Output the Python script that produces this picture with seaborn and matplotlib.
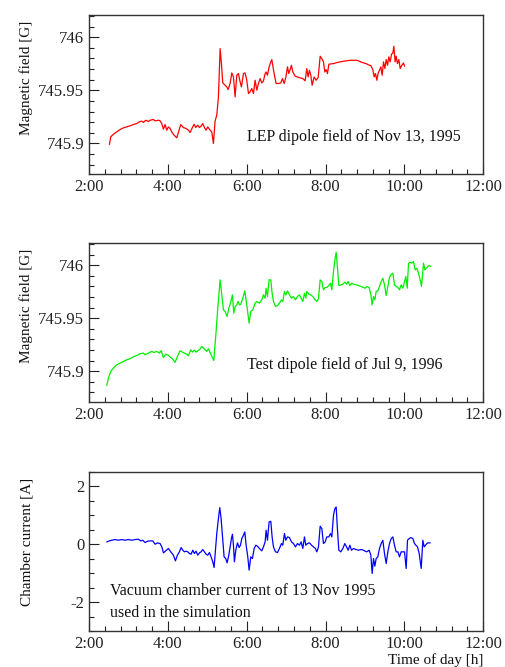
import matplotlib
matplotlib.use('Agg')
import matplotlib.pyplot as plt
from matplotlib.ticker import MultipleLocator
import seaborn as sns
import pandas as pd

# time of day in hours

# LEP dipole field, Nov 13 1995 [G]
lep_t = [2.516, 2.550, 2.617, 2.702, 2.787, 2.871, 2.956, 3.040, 3.125, 3.210, 3.277, 3.337,
         3.379, 3.438, 3.506, 3.548, 3.633, 3.675, 3.760, 3.802, 3.844, 3.886, 3.929, 3.971,
         4.013, 4.056, 4.098, 4.157, 4.225, 4.284, 4.326, 4.394, 4.462, 4.521, 4.563, 4.622,
         4.665, 4.707, 4.758, 4.800, 4.842, 4.885, 4.927, 4.969, 5.012, 5.071, 5.113, 5.155,
         5.198, 5.240, 5.282, 5.325, 5.358, 5.392, 5.452, 5.494, 5.528, 5.578, 5.621, 5.663,
         5.705, 5.748, 5.790, 5.832, 5.866, 5.917, 5.959, 6.001, 6.044, 6.086, 6.128, 6.171,
         6.213, 6.255, 6.298, 6.340, 6.382, 6.424, 6.467, 6.492, 6.526, 6.568, 6.611, 6.636,
         6.661, 6.695, 6.746, 6.805, 6.864, 6.907, 6.949, 6.991, 7.034, 7.067, 7.101, 7.135,
         7.169, 7.228, 7.287, 7.355, 7.423, 7.482, 7.524, 7.558, 7.592, 7.626, 7.660, 7.710,
         7.761, 7.812, 7.863, 7.905, 7.947, 7.981, 8.015, 8.049, 8.083, 8.201, 8.328, 8.455,
         8.624, 8.793, 8.878, 8.962, 9.030, 9.089, 9.149, 9.199, 9.233, 9.267, 9.301, 9.335,
         9.369, 9.402, 9.436, 9.470, 9.504, 9.538, 9.572, 9.605, 9.639, 9.673, 9.707, 9.732,
         9.766, 9.791, 9.825, 9.859, 9.893, 9.935, 9.978, 10.003]
lep_b = [745.8989, 745.9061, 745.9086, 745.9108, 745.9130, 745.9146, 745.9155, 745.9165,
         745.9177, 745.9187, 745.9203, 745.9209, 745.9196, 745.9218, 745.9206, 745.9218,
         745.9225, 745.9212, 745.9218, 745.9212, 745.9187, 745.9133, 745.9177, 745.9124,
         745.9155, 745.9140, 745.9108, 745.9077, 745.9052, 745.9124, 745.9177, 745.9149,
         745.9140, 745.9124, 745.9102, 745.9149, 745.9180, 745.9149, 745.9171, 745.9149,
         745.9162, 745.9187, 745.9149, 745.9124, 745.9155, 745.9124, 745.9108, 745.8998,
         745.9212, 745.9265, 745.9438, 745.9893, 745.9752, 745.9570, 745.9548, 745.9532,
         745.9507, 745.9564, 745.9664, 745.9626, 745.9438, 745.9642, 745.9658, 745.9579,
         745.9532, 745.9658, 745.9664, 745.9595, 745.9470, 745.9485, 745.9517, 745.9470,
         745.9595, 745.9501, 745.9564, 745.9611, 745.9570, 745.9589, 745.9658, 745.9673,
         745.9642, 745.9721, 745.9768, 745.9790, 745.9736, 745.9658, 745.9564, 745.9564,
         745.9570, 745.9611, 745.9564, 745.9620, 745.9721, 745.9658, 745.9695, 745.9736,
         745.9673, 745.9633, 745.9626, 745.9617, 745.9611, 745.9589, 745.9705, 745.9626,
         745.9689, 745.9642, 745.9548, 745.9626, 745.9595, 745.9620, 745.9821, 745.9799,
         745.9768, 745.9673, 745.9695, 745.9658, 745.9746, 745.9752, 745.9765, 745.9774,
         745.9783, 745.9783, 745.9771, 745.9758, 745.9752, 745.9739, 745.9733, 745.9695,
         745.9626, 745.9658, 745.9595, 745.9664, 745.9689, 745.9721, 745.9642, 745.9768,
         745.9705, 745.9790, 745.9736, 745.9815, 745.9768, 745.9840, 745.9852, 745.9915,
         745.9768, 745.9821, 745.9752, 745.9790, 745.9705, 745.9736, 745.9758, 745.9727]

# test dipole field, Jul 9 1996 [G]
test_t = [2.448, 2.491, 2.550, 2.617, 2.702, 2.787, 2.871, 2.956, 3.040, 3.125, 3.210, 3.294,
          3.379, 3.421, 3.506, 3.590, 3.650, 3.717, 3.785, 3.827, 3.886, 3.946, 4.013, 4.073,
          4.123, 4.183, 4.242, 4.309, 4.369, 4.419, 4.479, 4.521, 4.580, 4.622, 4.673, 4.715,
          4.758, 4.800, 4.859, 4.902, 4.944, 4.986, 5.029, 5.096, 5.164, 5.223, 5.265, 5.325,
          5.367, 5.409, 5.452, 5.502, 5.545, 5.587, 5.638, 5.671, 5.705, 5.748, 5.781, 5.815,
          5.849, 5.900, 5.951, 6.001, 6.061, 6.103, 6.154, 6.213, 6.255, 6.323, 6.382, 6.424,
          6.467, 6.492, 6.526, 6.568, 6.611, 6.644, 6.678, 6.729, 6.780, 6.830, 6.881, 6.915,
          6.957, 6.991, 7.034, 7.084, 7.135, 7.186, 7.237, 7.287, 7.338, 7.380, 7.423, 7.465,
          7.499, 7.524, 7.575, 7.626, 7.676, 7.736, 7.778, 7.820, 7.863, 7.905, 7.947, 7.990,
          8.032, 8.083, 8.125, 8.159, 8.201, 8.243, 8.269, 8.303, 8.336, 8.387, 8.438, 8.489,
          8.531, 8.573, 8.616, 8.658, 8.709, 8.776, 8.836, 8.903, 8.962, 9.005, 9.047, 9.106,
          9.149, 9.182, 9.216, 9.250, 9.284, 9.326, 9.368, 9.411, 9.453, 9.495, 9.538, 9.580,
          9.622, 9.665, 9.707, 9.749, 9.791, 9.834, 9.876, 9.918, 9.961, 10.003, 10.037, 10.071,
          10.105, 10.147, 10.189, 10.231, 10.274, 10.316, 10.358, 10.401, 10.434, 10.468,
          10.485, 10.519, 10.570, 10.621, 10.671]
test_b = [745.8866, 745.8935, 745.8998, 745.9030, 745.9061, 745.9077, 745.9092, 745.9108,
          745.9118, 745.9136, 745.9149, 745.9165, 745.9171, 745.9155, 745.9171, 745.9187,
          745.9177, 745.9187, 745.9171, 745.9193, 745.9130, 745.9161, 745.9149, 745.9130,
          745.9114, 745.9083, 745.9140, 745.9193, 745.9180, 745.9171, 745.9161, 745.9146,
          745.9202, 745.9180, 745.9199, 745.9180, 745.9193, 745.9202, 745.9234, 745.9218,
          745.9202, 745.9187, 745.9212, 745.9155, 745.9102, 745.9375, 745.9595, 745.9862,
          745.9720, 745.9579, 745.9563, 745.9516, 745.9595, 745.9642, 745.9720, 745.9548,
          745.9611, 745.9626, 745.9658, 745.9626, 745.9632, 745.9689, 745.9758, 745.9626,
          745.9453, 745.9563, 745.9579, 745.9642, 745.9658, 745.9642, 745.9673, 745.9720,
          745.9689, 745.9783, 745.9705, 745.9862, 745.9862, 745.9736, 745.9658, 745.9611,
          745.9620, 745.9642, 745.9673, 745.9658, 745.9752, 745.9720, 745.9758, 745.9720,
          745.9689, 745.9705, 745.9673, 745.9705, 745.9720, 745.9689, 745.9658, 745.9736,
          745.9689, 745.9752, 745.9727, 745.9720, 745.9705, 745.9673, 745.9658, 745.9683,
          745.9862, 745.9846, 745.9768, 745.9790, 745.9790, 745.9808, 745.9830, 745.9768,
          745.9940, 746.0066, 746.0122, 745.9972, 745.9808, 745.9815, 745.9821, 745.9840,
          745.9821, 745.9846, 745.9808, 745.9830, 745.9821, 745.9815, 745.9808, 745.9799,
          745.9790, 745.9783, 745.9799, 745.9790, 745.9720, 745.9626, 745.9705, 745.9673,
          745.9752, 745.9758, 745.9799, 745.9846, 745.9877, 745.9815, 745.9714, 745.9799,
          745.9884, 745.9915, 745.9924, 745.9815, 745.9799, 745.9790, 745.9768, 745.9815,
          745.9783, 745.9846, 745.9893, 745.9783, 746.0019, 746.0028, 746.0019, 746.0034,
          745.9956, 745.9972, 745.9924, 745.9862, 745.9799, 745.9940, 746.0019, 745.9956,
          745.9978, 745.9997, 745.9987]

# vacuum chamber current, Nov 13 1995 [A]
cur_t = [2.448, 2.516, 2.575, 2.660, 2.744, 2.829, 2.914, 2.998, 3.083, 3.167, 3.252, 3.311,
         3.362, 3.421, 3.480, 3.548, 3.616, 3.675, 3.734, 3.802, 3.853, 3.886, 3.946, 4.013,
         4.073, 4.140, 4.191, 4.242, 4.292, 4.335, 4.377, 4.419, 4.462, 4.504, 4.546, 4.589,
         4.631, 4.673, 4.715, 4.758, 4.800, 4.842, 4.885, 4.927, 4.969, 5.012, 5.054, 5.096,
         5.139, 5.172, 5.206, 5.240, 5.282, 5.316, 5.350, 5.392, 5.426, 5.468, 5.502, 5.545,
         5.578, 5.612, 5.638, 5.663, 5.688, 5.722, 5.765, 5.807, 5.841, 5.875, 5.917, 5.951,
         5.985, 6.027, 6.061, 6.103, 6.145, 6.188, 6.230, 6.272, 6.323, 6.382, 6.424, 6.467,
         6.492, 6.526, 6.568, 6.611, 6.644, 6.678, 6.729, 6.780, 6.830, 6.881, 6.915, 6.957,
         6.991, 7.034, 7.084, 7.135, 7.186, 7.237, 7.287, 7.338, 7.380, 7.423, 7.465, 7.499,
         7.541, 7.592, 7.643, 7.693, 7.744, 7.778, 7.820, 7.863, 7.905, 7.947, 7.990, 8.032,
         8.083, 8.125, 8.159, 8.201, 8.235, 8.269, 8.303, 8.336, 8.387, 8.438, 8.489, 8.531,
         8.573, 8.616, 8.658, 8.709, 8.776, 8.836, 8.903, 8.962, 9.005, 9.047, 9.106, 9.149,
         9.182, 9.216, 9.250, 9.284, 9.326, 9.368, 9.411, 9.453, 9.495, 9.538, 9.580, 9.622,
         9.665, 9.707, 9.749, 9.791, 9.834, 9.876, 9.918, 9.961, 10.003, 10.045, 10.079,
         10.122, 10.164, 10.215, 10.257, 10.291, 10.333, 10.375, 10.426, 10.468, 10.502,
         10.536, 10.587, 10.655]
cur_i = [0.080, 0.115, 0.138, 0.161, 0.138, 0.161, 0.138, 0.161, 0.138, 0.161, 0.172, 0.115,
         0.138, 0.057, 0.103, 0.115, 0.115, 0.000, 0.046, 0.023, -0.115, -0.299, -0.230, -0.149,
         -0.264, -0.379, -0.575, -0.379, -0.264, -0.115, -0.207, -0.264, -0.241, -0.264, -0.322,
         -0.345, -0.207, -0.322, -0.241, -0.379, -0.299, -0.264, -0.184, -0.264, -0.345, -0.379,
         -0.287, -0.437, -0.609, -0.805, -0.207, 0.368, 0.885, 1.264, 0.885, 0.138, -0.437,
         -0.494, -0.644, -0.379, -0.092, 0.195, 0.345, -0.034, -0.609, -0.207, 0.046, -0.115,
         -0.034, 0.195, 0.310, 0.425, -0.034, -0.437, -0.897, -0.437, -0.494, -0.149, -0.034,
         -0.069, -0.149, -0.230, -0.092, 0.080, 0.483, 0.138, 0.770, 0.793, 0.253, -0.092,
         -0.264, -0.287, -0.149, 0.023, -0.034, 0.368, 0.138, 0.253, 0.230, 0.080, 0.023,
         -0.092, 0.023, -0.034, 0.080, -0.149, 0.253, -0.034, 0.023, 0.046, -0.034, -0.092,
         -0.149, -0.264, -0.092, 0.621, 0.540, 0.023, 0.080, 0.253, 0.253, 0.368, 0.253, 1.000,
         1.230, 1.287, 0.483, -0.207, -0.264, -0.149, 0.023, -0.092, -0.207, -0.034, -0.207,
         -0.149, -0.184, -0.207, -0.184, -0.207, -0.241, -0.264, -0.207, -0.379, -1.012,
         -0.494, -0.759, -0.494, -0.437, -0.149, 0.023, 0.138, -0.322, -0.667, -0.264, 0.023,
         0.195, 0.253, -0.034, -0.264, -0.264, -0.437, -0.264, -0.264, -0.264, -0.839, 0.138,
         0.195, 0.230, 0.195, 0.023, -0.034, -0.092, -0.322, -0.839, 0.138, -0.092, -0.034,
         0.046, 0.046]

hour_ticks = [2, 4, 6, 8, 10, 12]
hour_labels = ['2:00', '4:00', '6:00', '8:00', '10:00', '12:00']
field_ticks = [745.9, 745.95, 746.0]
field_labels = ['745.9', '745.95', '746']
cur_ticks = [-2, 0, 2]
cur_labels = ['-2', '0', '2']

sns.set_style('white')
plt.rcParams['font.family'] = ['Liberation Serif', 'DejaVu Serif']

fig = plt.figure(figsize=(5.06, 6.67), dpi=100)
# panel rectangles in figure fractions
rects = [[0.176, 0.739, 0.779, 0.2385],
         [0.176, 0.3973, 0.779, 0.2385],
         [0.176, 0.054, 0.779, 0.2385]]
axes = [fig.add_axes(r) for r in rects]

panels = [
    (pd.DataFrame({'t': lep_t, 'v': lep_b}), '#ff0000', 'Magnetic field [G]',
     'LEP dipole field of Nov 13, 1995'),
    (pd.DataFrame({'t': test_t, 'v': test_b}), '#00ee00', 'Magnetic field [G]',
     'Test dipole field of Jul 9, 1996'),
    (pd.DataFrame({'t': cur_t, 'v': cur_i}), '#0000ff', 'Chamber current [A]',
     'Vacuum chamber current of 13 Nov 1995\nused in the simulation'),
]

for i, (ax, (df, col, ylab, note)) in enumerate(zip(axes, panels)):
    sns.lineplot(data=df, x='t', y='v', ax=ax, color=col, lw=0.9,
                 estimator=None, sort=False)
    ax.set_xlim(2, 12)
    ax.set_xticks(hour_ticks)
    ax.set_xticklabels(hour_labels)
    ax.xaxis.set_minor_locator(MultipleLocator(0.4))
    if i < 2:
        ax.set_ylim(745.871, 746.021)
        ax.set_yticks(field_ticks)
        ax.set_yticklabels(field_labels)
        ax.yaxis.set_minor_locator(MultipleLocator(0.01))
        ax.text(0.401, 0.233, note, transform=ax.transAxes, fontsize=11.5,
                va='center', ha='left', color='#111111')
    else:
        ax.set_ylim(-3, 2.5)
        ax.set_yticks(cur_ticks)
        ax.set_yticklabels(cur_labels)
        ax.yaxis.set_minor_locator(MultipleLocator(0.5))
        ax.text(0.053, 0.183, note, transform=ax.transAxes, fontsize=11.5,
                va='center', ha='left', color='#111111', linespacing=1.45)
    ax.set_ylabel(ylab, fontsize=11, loc='top', color='#111111')
    ax.yaxis.set_label_coords(-0.142, 0.965)
    ax.set_xlabel('')
    ax.tick_params(which='both', direction='in', bottom=True, left=True,
                   top=False, right=False, colors='#222222', labelsize=12,
                   width=0.8)
    ax.tick_params(which='major', length=7, pad=3.5)
    ax.tick_params(which='minor', length=3.5)
    for s in ax.spines.values():
        s.set_color('#333333')
        s.set_linewidth(1.0)

axes[2].set_xlabel('Time of day [h]', fontsize=11, loc='right', labelpad=1,
                   color='#111111')

fig.savefig('out.png', dpi=100)
